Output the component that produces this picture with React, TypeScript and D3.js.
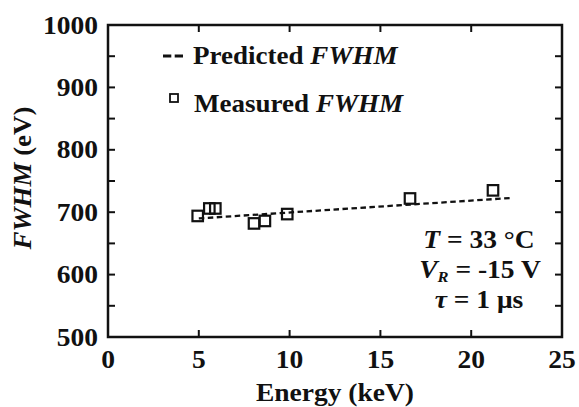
import React from "react";
import * as d3 from "d3";

const measuredEnergy = [4.94, 5.58, 5.91, 8.04, 8.64, 9.87, 16.63, 21.2];
const measuredFwhm = [694, 706, 706, 682, 686, 697, 722, 735];
const predictedEnergy = [5.0, 22.3];
const predictedFwhm = [690, 723];
const xTicks = [0, 5, 10, 15, 20, 25];
const yTicks = [500, 600, 700, 800, 900, 1000];
const yMinorTicks = [550, 650, 750, 850, 950];

const W = 579;
const H = 407;
const M = { left: 108, right: 562, top: 25, bottom: 337 };
const FONT = "'Liberation Serif', 'Times New Roman', serif";

function ST({
  x,
  y,
  sx = 1.08,
  rotate = 0,
  anchor = "start",
  size = 25,
  children,
}: {
  x: number;
  y: number;
  sx?: number;
  rotate?: number;
  anchor?: string;
  size?: number;
  children: React.ReactNode;
}) {
  return (
    <g transform={`translate(${x},${y}) rotate(${rotate}) scale(${sx},1)`}>
      <text x={0} y={0} textAnchor={anchor} fontSize={size} fill="#111">
        {children}
      </text>
    </g>
  );
}

export default function App() {
  const x = d3.scaleLinear().domain([0, 25]).range([M.left, M.right]);
  const y = d3.scaleLinear().domain([500, 1000]).range([M.bottom, M.top]);
  const line = d3
    .line<number>()
    .x((_, i) => x(predictedEnergy[i]))
    .y((d) => y(d));
  const tickLen = 7;
  const allY = [...yTicks, ...yMinorTicks].filter((v) => v > 500 && v < 1000);
  const innerX = xTicks.filter((v) => v > 0 && v < 25);
  const sq = 10.5;
  return (
    <svg
      width={W}
      height={H}
      style={{ position: "absolute", left: 0, top: 0, background: "#fff" }}
      fontFamily={FONT}
      fontWeight="bold"
    >
      <rect x={0} y={0} width={W} height={H} fill="#fff" />
      {/* ticks */}
      <g stroke="#111" strokeWidth={2}>
        {allY.map((v) => (
          <g key={"y" + v}>
            <line x1={M.left} x2={M.left + tickLen} y1={y(v)} y2={y(v)} />
            <line x1={M.right} x2={M.right - tickLen} y1={y(v)} y2={y(v)} />
          </g>
        ))}
        {innerX.map((v) => (
          <g key={"x" + v}>
            <line x1={x(v)} x2={x(v)} y1={M.bottom} y2={M.bottom - tickLen} />
            <line x1={x(v)} x2={x(v)} y1={M.top} y2={M.top + tickLen} />
          </g>
        ))}
      </g>
      <rect
        x={M.left}
        y={M.top}
        width={M.right - M.left}
        height={M.bottom - M.top}
        fill="none"
        stroke="#111"
        strokeWidth={2.5}
      />
      {/* tick labels */}
      {yTicks.map((v) => (
        <ST key={"yl" + v} x={M.left - 10} y={y(v) + 8.5} anchor="end" sx={1.1}>
          {v}
        </ST>
      ))}
      {xTicks.map((v) => (
        <ST key={"xl" + v} x={x(v)} y={368} anchor="middle" sx={1.1}>
          {v}
        </ST>
      ))}
      {/* axis titles */}
      <ST x={335} y={401} anchor="middle" sx={1.1}>
        Energy (keV)
      </ST>
      <ST x={31} y={(M.top + M.bottom) / 2 - 3} rotate={-90} anchor="middle" sx={1.08}>
        <tspan fontStyle="italic">FWHM</tspan> (eV)
      </ST>
      {/* predicted line */}
      <path
        d={line(predictedFwhm) || ""}
        fill="none"
        stroke="#111"
        strokeWidth={2.3}
        strokeDasharray="5.5,3.5"
      />
      {/* measured squares */}
      <g fill="none" stroke="#111" strokeWidth={2.2}>
        {measuredEnergy.map((e, i) => (
          <rect
            key={"m" + i}
            x={x(e) - sq / 2}
            y={y(measuredFwhm[i]) - sq / 2}
            width={sq}
            height={sq}
          />
        ))}
      </g>
      {/* legend */}
      <line x1={163} x2={183} y1={56} y2={56} stroke="#111" strokeWidth={2.8} strokeDasharray="8.3,3.4" />
      <ST x={193} y={64} size={26} sx={1.04}>
        Predicted <tspan fontStyle="italic">FWHM</tspan>
      </ST>
      <rect x={170} y={94} width={8} height={8} fill="none" stroke="#111" strokeWidth={1.8} />
      <ST x={194} y={112} size={26} sx={1.04}>
        Measured <tspan fontStyle="italic">FWHM</tspan>
      </ST>
      {/* conditions */}
      <ST x={479} y={248} anchor="middle" sx={1.1}>
        <tspan fontStyle="italic">T</tspan> = 33 °C
      </ST>
      <ST x={480} y={278} anchor="middle" sx={1.1}>
        <tspan fontStyle="italic">V</tspan>
        <tspan fontStyle="italic" fontSize={15} dy={4}>R</tspan>
        <tspan dy={-4}> = -15 V</tspan>
      </ST>
      <ST x={479} y={308} anchor="middle" sx={1.1}>
        <tspan fontStyle="italic">τ</tspan> = 1 μs
      </ST>
    </svg>
  );
}
